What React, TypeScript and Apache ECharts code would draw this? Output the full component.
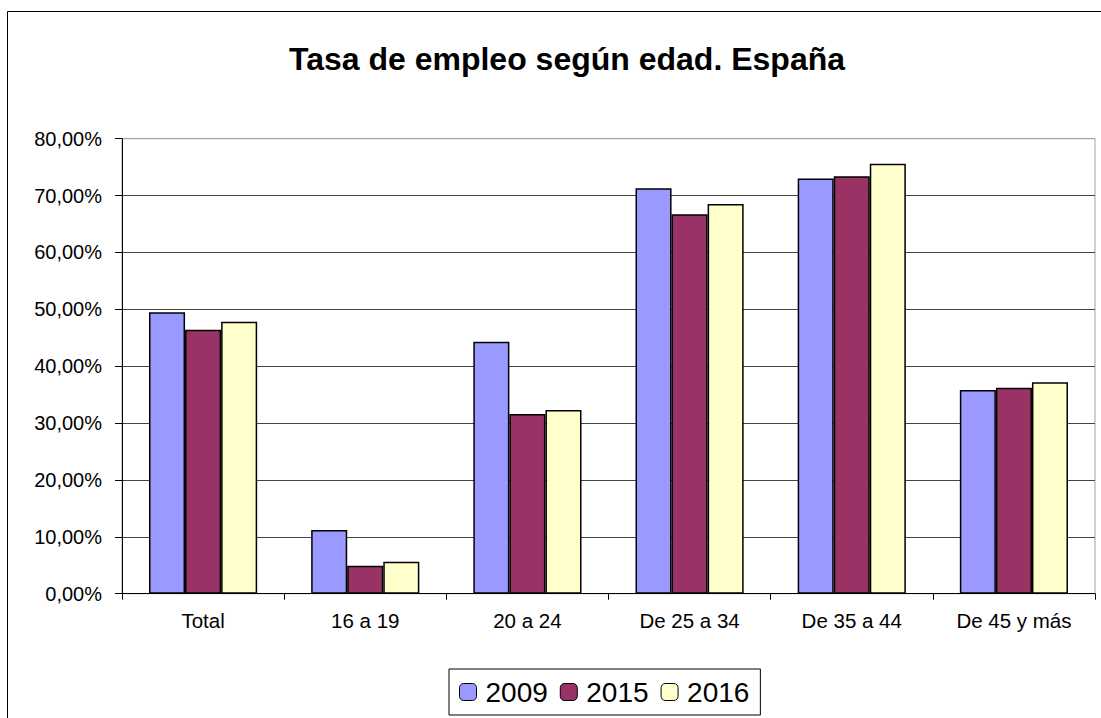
import React, { useEffect, useRef } from "react";
import * as echarts from "echarts";

const categories = ["Total", "16 a 19", "20 a 24", "De 25 a 34", "De 35 a 44", "De 45 y más"];
const seriesNames = ["2009", "2015", "2016"];
const values2009 = [49.5, 11.2, 44.3, 71.3, 73.0, 35.8];
const values2015 = [46.4, 4.9, 31.6, 66.7, 73.4, 36.2];
const values2016 = [47.8, 5.6, 32.3, 68.5, 75.6, 37.2];
const colors = ["#9999FF", "#993366", "#FFFFCC"];
const yTicks = [0, 10, 20, 30, 40, 50, 60, 70, 80];

const FONT = "'Liberation Sans', Arial, sans-serif";

export default function App() {
  const ref = useRef<HTMLDivElement>(null);
  useEffect(() => {
    if (!ref.current) return;
    const chart = echarts.init(ref.current, null, { renderer: "svg" });
    const data = [values2009, values2015, values2016];
    chart.setOption({
      animation: false,
      backgroundColor: "#ffffff",
      textStyle: { fontFamily: FONT },
      title: {
        text: "Tasa de empleo según edad. España",
        left: 562,
        top: 38,
        textAlign: "center",
        textStyle: { fontFamily: FONT, fontSize: 32, fontWeight: "bold", color: "#000" },
      },
      graphic: [
        {
          type: "rect",
          shape: { x: 7.5, y: 11.5, width: 1200, height: 800 },
          style: { fill: "none", stroke: "#000", lineWidth: 1 },
          silent: true,
        },
      ],
      legend: {
        data: seriesNames,
        left: 449,
        top: 669,
        orient: "horizontal",
        padding: [9, 11, 9, 10],
        itemWidth: 17,
        itemHeight: 17,
        itemGap: 12,
        borderColor: "#000",
        borderWidth: 1,
        backgroundColor: "#fff",
        textStyle: { fontFamily: FONT, fontSize: 28, color: "#000", padding: [0, 0, 0, 4] },
        itemStyle: { borderColor: "#000", borderWidth: 1 },
      },
      grid: {
        left: 122,
        right: 6,
        top: 138.7,
        bottom: 124.3,
        show: true,
        borderColor: "#a0a0a0",
        borderWidth: 1,
        backgroundColor: "transparent",
      },
      xAxis: {
        type: "category",
        data: categories,
        axisLine: { lineStyle: { color: "#000", width: 1 } },
        axisTick: { show: true, length: 6, lineStyle: { color: "#000" } },
        axisLabel: { fontFamily: FONT, fontSize: 20.5, color: "#000", margin: 16 },
      },
      yAxis: {
        type: "value",
        min: 0,
        max: 80,
        interval: 10,
        axisLine: { show: true, lineStyle: { color: "#000", width: 1 } },
        axisTick: { show: true, length: 7, lineStyle: { color: "#000" } },
        axisLabel: {
          fontFamily: FONT,
          fontSize: 20,
          color: "#000",
          margin: 20,
          formatter: (v: number) => v.toFixed(2).replace(".", ",") + "%",
        },
        splitLine: {
          show: true,
          lineStyle: {
            color: yTicks.map((t) => (t === 80 ? "#a0a0a0" : "#444")),
            width: 1,
          },
        },
      },
      series: seriesNames.map((name, i) => ({
        name,
        type: "bar",
        data: data[i],
        barGap: "0%",
        barCategoryGap: "33.3%",
        itemStyle: { color: colors[i], borderColor: "#000", borderWidth: 1.5 },
      })),
    });
    return () => chart.dispose();
  }, []);
  return <div ref={ref} style={{ width: 1101, height: 718, position: "absolute", left: 0, top: 0 }} />;
}
